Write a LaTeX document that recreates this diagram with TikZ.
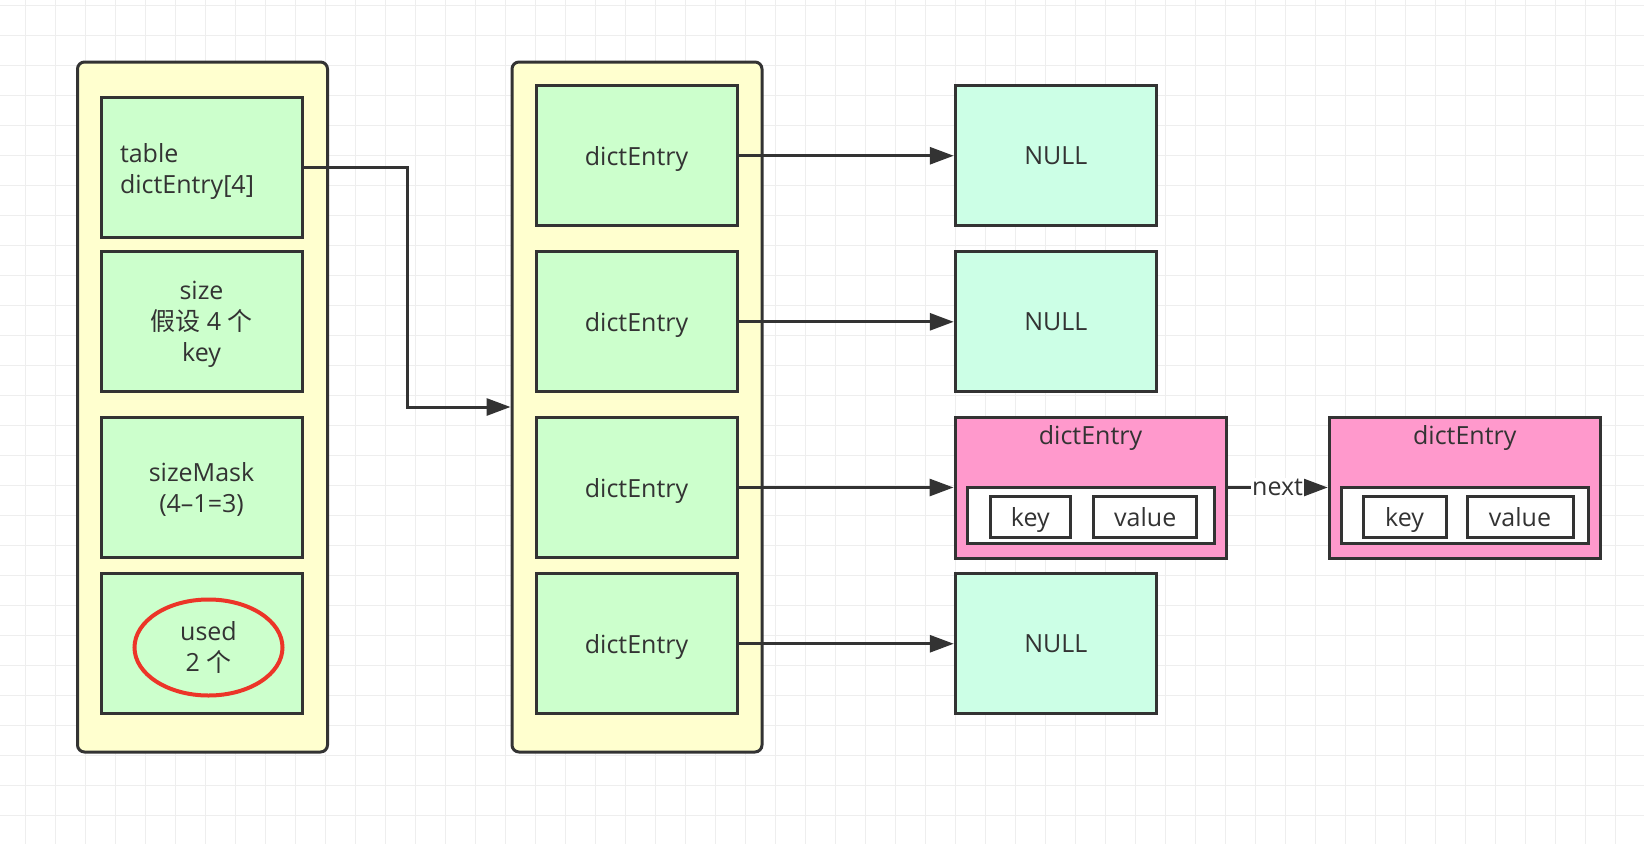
\documentclass[tikz,border=0pt]{standalone}
\usepackage{fontspec}
\setmainfont{Open Sans}
\newfontfamily\cjk{Noto Sans CJK SC}
\usetikzlibrary{arrows.meta, shapes.geometric}
\definecolor{ink}{HTML}{333333}
\definecolor{pale}{HTML}{FFFFCF}
\definecolor{leaf}{HTML}{CCFFCC}
\definecolor{mint}{HTML}{CCFFE6}
\definecolor{rose}{HTML}{FF99CC}
\definecolor{redring}{HTML}{EC3528}
\definecolor{gridline}{HTML}{EEEEEE}

\begin{document}
\begin{tikzpicture}[x=1pt, y=-1pt, line width=3pt, color=ink,
    font=\fontsize{25}{31}\selectfont,
    holder/.style={draw, fill=pale, rounded corners=7pt, minimum width=250pt, minimum height=690pt},
    field/.style={draw, fill=leaf, minimum width=201pt, minimum height=140pt, align=center, inner sep=0pt, text depth=0pt},
    slot/.style={draw, fill=mint, minimum width=201pt, minimum height=140pt, text depth=0pt},
    entry/.style={draw, fill=rose, minimum width=271pt, minimum height=141pt},
    pair/.style={draw, fill=white, minimum width=247pt, minimum height=56pt},
    cell/.style={draw, fill=white, minimum height=41pt, inner sep=0pt, text depth=0pt},
    arr/.style={-{Triangle[length=24pt, width=17pt]}}]
  \useasboundingbox[fill=white] (0,0) rectangle (1644,844);
  % grid paper
  \foreach \x in {25,55,...,1644} \draw[gridline, line width=1pt] (\x,0) -- (\x,844);
  \foreach \y in {5,35,...,844} \draw[gridline, line width=1pt] (0,\y) -- (1644,\y);

  \node[holder] (fields) at (202.5,407) {};
  \node[holder] (table) at (637,407) {};

  \node[field, align=left, text width=163pt, text depth=29pt] (tbl) at (201.5,167.75) {table\\dictEntry[4]};
  \node[field] (size) at (201.5,321.8) {size\\{\cjk 假设} 4 {\cjk 个}\\key};
  \node[field] (mask) at (201.5,487.5) {sizeMask\\(4--1=3)};
  \node[field] (used) at (201.5,643.75) {};
  \node[draw=redring, ellipse, line width=4pt, minimum width=148pt, minimum height=96pt,
        align=center, inner sep=0pt] (usedring) at (208.5,647.5) {used\\2 {\cjk 个}};

  \foreach \y [count=\i] in {155.75,321.8,487.5,643.75}
    \node[field] (e\i) at (636.5,\y) {dictEntry};

  \node[slot] (n1) at (1055.75,155.75) {NULL};
  \node[slot] (n2) at (1055.75,321.8) {NULL};
  \node[slot] (n4) at (1055.75,643.75) {NULL};

  % chained entries
  \node[entry] (d1) at (1090.5,487.5) {};
  \node[text depth=0pt] (d1name) at (1090.5,435) {dictEntry};
  \node[pair] (p1) at (1090.5,515.75) {};
  \node[cell, minimum width=80pt] (k1) at (1030.25,516.5) {key};
  \node[cell, minimum width=103pt] (v1) at (1145.25,516.5) {value};

  \node[entry] (d2) at (1464.75,487.5) {};
  \node[text depth=0pt] (d2name) at (1464.75,435) {dictEntry};
  \node[pair] (p2) at (1464.75,515.75) {};
  \node[cell, minimum width=83pt] (k2) at (1404.5,516.5) {key};
  \node[cell, minimum width=106pt] (v2) at (1520,516.5) {value};

  \draw[arr] (tbl.east) -- ++(104,0) |- (table.west);
  \foreach \i in {1,2,4} \draw[arr] (e\i.east) -- (n\i.west);
  \draw[arr] (e3.east) -- (d1.west);
  \draw[arr] (d1.east) -- node[fill=white, inner sep=1pt] (nextlabel) {next} (d2.west);
\end{tikzpicture}
\end{document}
